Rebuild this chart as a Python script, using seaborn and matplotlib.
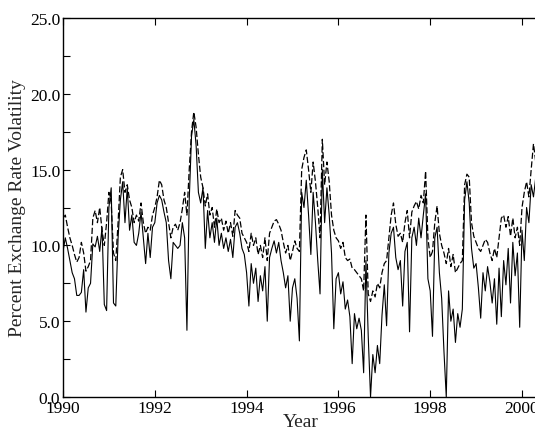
import numpy as np
import pandas as pd
import matplotlib
matplotlib.use("Agg")
import matplotlib.pyplot as plt
from matplotlib.ticker import MultipleLocator, FormatStrFormatter
import seaborn as sns

# time axis: every 0.05 year from 1990.00 to 2000.30
years = [round(1990 + 0.05 * i, 2) for i in range(207)]

# solid line (20 values per year)
solid_1990 = [9.6, 10.5, 9.8, 9.0, 8.2, 7.8, 6.7, 6.7, 6.9, 8.4, 5.6, 7.2, 7.5, 10.1, 9.9, 10.6, 9.6, 11.2, 6.1, 5.7]
solid_1991 = [12.5, 13.8, 6.2, 6.0, 10.5, 13.0, 14.2, 11.5, 13.8, 11.0, 12.0, 10.2, 10.0, 10.8, 12.2, 10.5, 8.8, 10.8, 9.2, 11.2]
solid_1992 = [11.5, 12.8, 13.3, 13.0, 12.2, 11.5, 9.0, 7.8, 10.2, 10.0, 9.8, 10.0, 11.5, 10.5, 4.4, 13.0, 17.2, 18.3, 16.6, 13.5]
solid_1993 = [12.8, 13.8, 9.8, 12.3, 10.5, 11.5, 10.2, 11.8, 10.0, 10.8, 9.8, 10.5, 9.6, 10.4, 9.2, 11.2, 11.5, 10.8, 9.8, 9.4]
solid_1994 = [8.2, 6.0, 8.8, 7.5, 8.5, 6.3, 8.0, 7.0, 8.6, 5.0, 9.2, 9.8, 10.3, 9.5, 10.2, 9.0, 8.2, 7.2, 8.0, 5.0]
solid_1995 = [7.2, 7.8, 6.5, 3.7, 13.5, 12.5, 14.3, 12.0, 9.4, 13.5, 11.5, 9.0, 6.8, 15.0, 11.5, 13.8, 12.0, 9.5, 4.5, 7.8]
solid_1996 = [8.2, 6.8, 7.6, 5.8, 6.4, 5.3, 2.2, 5.5, 4.5, 5.2, 4.4, 1.6, 9.0, 4.0, 0.0, 2.8, 1.6, 3.4, 2.2, 5.4]
solid_1997 = [7.4, 4.7, 9.5, 10.8, 11.2, 9.2, 8.4, 9.0, 6.0, 9.6, 10.2, 4.3, 10.5, 11.2, 10.0, 11.8, 10.5, 12.0, 13.4, 7.8]
solid_1998 = [7.0, 4.0, 10.5, 11.2, 8.2, 6.5, 3.0, 0.0, 7.0, 5.0, 5.8, 3.6, 5.5, 4.6, 5.8, 13.0, 14.2, 12.8, 9.8, 8.5]
solid_1999 = [8.8, 7.2, 5.2, 8.2, 7.0, 8.6, 7.6, 6.2, 7.8, 4.8, 8.5, 5.3, 9.0, 7.4, 9.8, 6.2, 10.2, 8.0, 9.5, 4.6]
solid_2000 = [11.0, 9.0, 12.5, 11.5, 14.0, 13.2, 14.5]

# dashed line
dashed_1990 = [11.8, 12.0, 11.2, 10.5, 10.0, 9.4, 8.9, 9.2, 10.2, 9.5, 8.3, 8.6, 9.0, 11.8, 12.3, 11.5, 12.5, 11.0, 10.0, 11.5]
dashed_1991 = [13.5, 12.8, 9.5, 9.0, 11.5, 14.5, 15.0, 13.5, 14.0, 13.0, 12.5, 11.5, 12.0, 11.6, 12.8, 11.5, 10.8, 11.2, 11.0, 12.0]
dashed_1992 = [12.5, 13.2, 14.3, 14.0, 13.0, 12.5, 11.5, 10.5, 11.2, 11.4, 11.0, 11.5, 12.4, 13.5, 12.0, 15.0, 17.5, 18.8, 17.8, 16.0]
dashed_1993 = [14.5, 13.8, 12.6, 13.4, 12.0, 12.5, 11.2, 12.4, 11.5, 11.8, 11.0, 11.6, 10.8, 11.5, 10.6, 12.3, 12.0, 11.8, 10.8, 10.5]
dashed_1994 = [10.2, 9.6, 10.8, 10.0, 10.5, 9.4, 10.0, 9.2, 10.5, 9.0, 10.8, 11.2, 11.6, 11.7, 11.4, 11.0, 10.2, 9.5, 10.0, 9.0]
dashed_1995 = [9.6, 10.3, 9.8, 9.6, 15.0, 15.8, 16.3, 15.0, 13.5, 15.5, 14.2, 12.5, 10.5, 17.0, 14.0, 15.5, 14.2, 12.0, 11.0, 10.5]
dashed_1996 = [10.3, 9.8, 10.2, 9.2, 9.0, 9.1, 8.5, 8.4, 8.2, 8.0, 7.8, 7.0, 12.0, 6.8, 6.3, 7.0, 6.6, 7.5, 7.2, 8.2]
dashed_1997 = [8.8, 9.0, 10.5, 12.0, 12.8, 11.4, 10.6, 10.8, 10.2, 11.5, 12.3, 10.5, 12.2, 12.6, 12.9, 12.4, 13.3, 12.8, 14.9, 10.5]
dashed_1998 = [9.2, 9.6, 11.5, 12.6, 10.8, 10.0, 9.5, 8.8, 9.8, 8.6, 9.4, 8.2, 8.5, 8.8, 9.0, 14.0, 14.7, 14.5, 11.5, 10.6]
dashed_1999 = [10.2, 9.8, 9.6, 10.0, 10.4, 10.2, 9.5, 9.0, 9.8, 9.2, 10.5, 11.8, 12.0, 11.2, 11.9, 10.6, 11.8, 10.5, 11.2, 10.0]
dashed_2000 = [12.5, 13.5, 14.2, 13.2, 15.0, 16.7, 15.5]

solid = (solid_1990 + solid_1991 + solid_1992 + solid_1993 + solid_1994 + solid_1995
         + solid_1996 + solid_1997 + solid_1998 + solid_1999 + solid_2000)
dashed = (dashed_1990 + dashed_1991 + dashed_1992 + dashed_1993 + dashed_1994 + dashed_1995
          + dashed_1996 + dashed_1997 + dashed_1998 + dashed_1999 + dashed_2000)

year_ticks = [1990, 1992, 1994, 1996, 1998, 2000]


def main():
    df = pd.DataFrame({"year": years, "solid": solid, "dashed": dashed})

    sns.set_style("ticks")
    plt.rcParams["font.family"] = ["Liberation Serif", "DejaVu Serif"]

    fig = plt.figure(figsize=(5.35, 4.35), dpi=100)
    # right spine sits just outside the picture, as in the original
    ax = fig.add_axes([63 / 535, 37 / 435, 475 / 535, 379 / 435])

    sns.lineplot(data=df, x="year", y="dashed", ax=ax, color="black", lw=0.9,
                 linestyle=(0, (5, 2)))
    sns.lineplot(data=df, x="year", y="solid", ax=ax, color="black", lw=0.8)

    ax.set_xlim(1990, 1990 + 475 / 45.9)
    ax.set_ylim(0, 25)
    ax.set_xticks(year_ticks)
    ax.yaxis.set_major_locator(MultipleLocator(5))
    ax.yaxis.set_minor_locator(MultipleLocator(2.5))
    ax.yaxis.set_major_formatter(FormatStrFormatter("%.1f"))
    ax.tick_params(axis="both", which="both", direction="in", length=5, width=0.8,
                   labelsize=12.5, colors="black")
    ax.tick_params(axis="x", top=True, pad=2)
    ax.tick_params(axis="y", pad=2)

    for s in ax.spines.values():
        s.set_linewidth(1.0)
        s.set_color("black")

    ax.set_xlabel("Year", fontsize=14, labelpad=-2)
    ax.set_ylabel("Percent Exchange Rate Volatility", fontsize=14, labelpad=3)

    fig.savefig("out.png", dpi=100)
    plt.close(fig)


if __name__ == "__main__":
    main()
